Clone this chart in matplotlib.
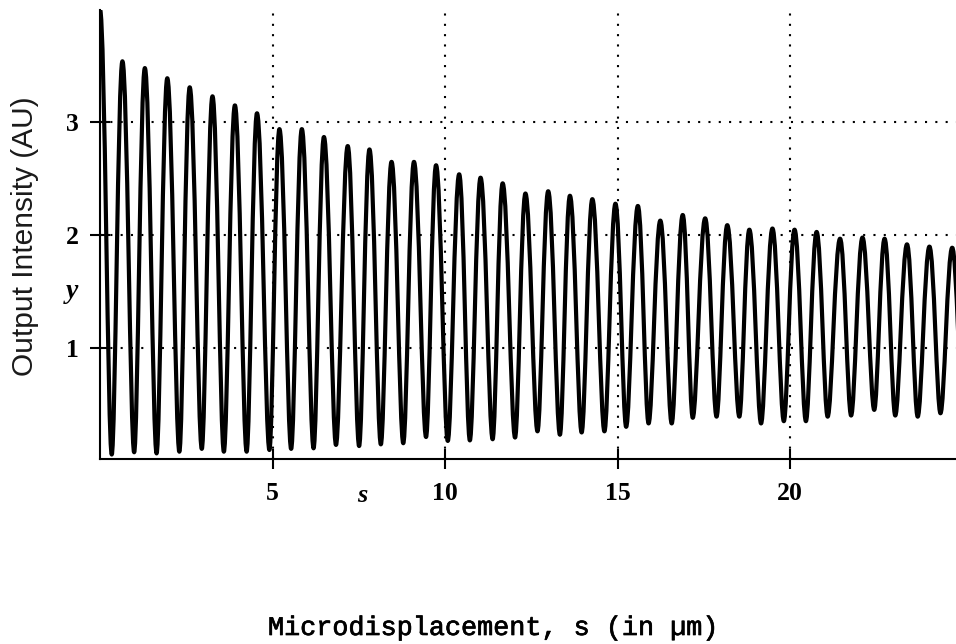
import matplotlib
matplotlib.use('Agg')
import matplotlib.pyplot as plt
import matplotlib.patheffects as pe
from matplotlib.path import Path
from matplotlib.patches import PathPatch

# ==========================================
# DATOS (maximos y minimos de la senal)
# ==========================================
PICO_X = [0.00, 0.65, 1.30, 1.95, 2.60, 3.26, 3.91, 4.55, 5.20, 5.85,
          6.49, 7.18, 7.81, 8.45, 9.10, 9.74, 10.41, 11.03, 11.67, 12.33,
          12.99, 13.62, 14.27, 14.94, 15.59, 16.24, 16.89, 17.54, 18.18, 18.82,
          19.49, 20.13, 20.77, 21.45, 22.10, 22.74, 23.39, 24.04, 24.70]
PICO_Y = [4.00, 3.54, 3.48, 3.39, 3.31, 3.23, 3.15, 3.08, 2.94, 2.94,
          2.87, 2.79, 2.76, 2.65, 2.65, 2.62, 2.54, 2.51, 2.46, 2.37,
          2.39, 2.35, 2.32, 2.28, 2.26, 2.13, 2.18, 2.15, 2.09, 2.05,
          2.06, 2.05, 2.03, 1.97, 1.98, 1.97, 1.92, 1.90, 1.89]
VALLE_X = [0.34, 0.99, 1.64, 2.30, 2.95, 3.59, 4.25, 4.91, 5.54, 6.19,
           6.84, 7.51, 8.14, 8.79, 9.45, 10.08, 10.72, 11.38, 12.03, 12.68,
           13.33, 13.96, 14.62, 15.25, 15.90, 16.57, 17.18, 17.87, 18.53, 19.16,
           19.82, 20.46, 21.09, 21.77, 22.44, 23.05, 23.70, 24.36, 25.02]
VALLE_Y = [0.06, 0.08, 0.07, 0.085, 0.11, 0.085, 0.085, 0.10, 0.11, 0.115,
           0.145, 0.135, 0.15, 0.16, 0.215, 0.18, 0.185, 0.195, 0.21, 0.265,
           0.235, 0.255, 0.265, 0.305, 0.335, 0.335, 0.385, 0.395, 0.395, 0.335,
           0.355, 0.355, 0.395, 0.405, 0.455, 0.405, 0.395, 0.425, 0.43]

TICKS_X = [5, 10, 15, 20]
TICKS_Y = [1, 2, 3]

# ==========================================
# ESTILO
# ==========================================
ANCHO_PX, ALTO_PX = 956, 644
BRAZO_PICO = 0.40    # brazo de control Bezier del lado del pico
BRAZO_VALLE = 0.32   # brazo de control Bezier del lado del valle
PUNTEADO = (0, (1, 3.95))

fig = plt.figure(figsize=(ANCHO_PX / 100, ALTO_PX / 100), dpi=100)
ax = fig.add_axes([100 / ANCHO_PX, 1 - 459.3 / ALTO_PX,
                   856 / ANCHO_PX, 449.3 / ALTO_PX])

# Secuencia alterna pico / valle
extremos = []
for i in range(len(PICO_X)):
    extremos.append((PICO_X[i], PICO_Y[i], 'pico'))
    extremos.append((VALLE_X[i], VALLE_Y[i], 'valle'))

verts = [(extremos[0][0], extremos[0][1])]
codes = [Path.MOVETO]
for (x0, y0, t0), (x1, y1, t1) in zip(extremos[:-1], extremos[1:]):
    dx = x1 - x0
    c0 = BRAZO_PICO if t0 == 'pico' else BRAZO_VALLE
    c1 = BRAZO_PICO if t1 == 'pico' else BRAZO_VALLE
    verts += [(x0 + c0 * dx, y0), (x1 - c1 * dx, y1), (x1, y1)]
    codes += [Path.CURVE4] * 3

curva = PathPatch(Path(verts, codes), fill=False, edgecolor='black',
                  lw=3.0, joinstyle='round', zorder=3)
ax.add_patch(curva)

ax.set_xlim(0, 24.81)
ax.set_ylim(0.0177, 3.994)

ax.set_xticks(TICKS_X)
ax.set_yticks(TICKS_Y)
ax.grid(True, color='black', linestyle=PUNTEADO, lw=1.5)
ax.set_axisbelow(True)

for lado in ['top', 'right']:
    ax.spines[lado].set_visible(False)
for lado in ['left', 'bottom']:
    ax.spines[lado].set_linewidth(1.5)
    ax.spines[lado].set_zorder(4)

ax.tick_params(direction='inout', length=14, width=1.5, color='black')
ax.tick_params(axis='x', pad=9.5)
ax.tick_params(axis='y', pad=8.3)
for lbl in ax.get_xticklabels() + ax.get_yticklabels():
    lbl.set_fontfamily('Liberation Serif')
    lbl.set_fontweight('bold')
    lbl.set_fontsize(18.5)

# Simbolos en cursiva junto a los ejes
ax.annotate('s', xy=(7.6, 0), xycoords=('data', 'axes fraction'),
            xytext=(0, -30.7), textcoords='offset points',
            ha='center', va='baseline', fontsize=19,
            family='Liberation Serif', weight='bold', style='italic')
ax.annotate('y', xy=(0, 1.5), xycoords=('axes fraction', 'data'),
            xytext=(-20, 0), textcoords='offset points',
            ha='center', va='center', fontsize=20,
            family='Liberation Serif', weight='bold', style='italic')

fig.text(25 / ANCHO_PX, 1 - 236 / ALTO_PX, 'Output Intensity (AU)',
         rotation=90, ha='center', va='center', fontsize=21.5,
         family='Liberation Sans', color='#1a1a1a')
fig.text(492 / ANCHO_PX, 1 - 628 / ALTO_PX, 'Microdisplacement, s (in \u00b5m)',
         ha='center', va='center', fontsize=19.3, family='Liberation Mono',
         path_effects=[pe.withStroke(linewidth=0.5, foreground='black')])

fig.savefig('out.png', dpi=100)
